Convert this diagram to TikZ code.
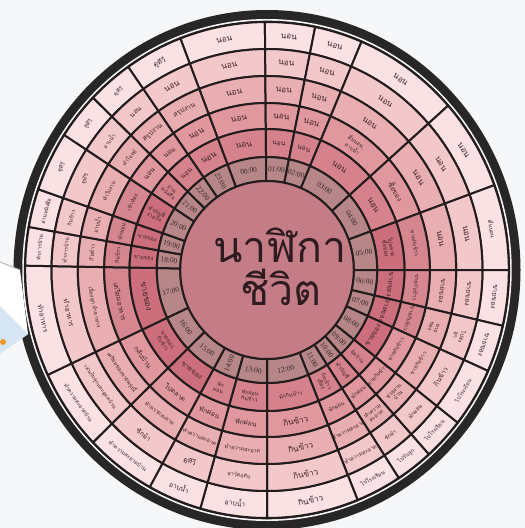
\documentclass[tikz,border=0pt]{standalone}
\usepackage{fontspec}
\setmainfont{Liberation Serif}
\newfontfamily\thai[Script=Thai]{Loma}
\definecolor{bgc}{RGB}{246,247,249}
\definecolor{bandc}{RGB}{40,38,38}
\definecolor{linec}{RGB}{34,28,28}
\definecolor{txtc}{RGB}{62,36,42}
\definecolor{hourtxt}{RGB}{56,40,40}
\definecolor{centerc}{RGB}{196,124,134}
\definecolor{hourc}{RGB}{182,134,136}
\definecolor{ringA}{RGB}{214,130,140}
\definecolor{ringAd}{RGB}{204,110,124}
\definecolor{ringB}{RGB}{224,152,158}
\definecolor{ringBd}{RGB}{214,134,142}
\definecolor{ringC}{RGB}{233,174,177}
\definecolor{ringD}{RGB}{243,200,203}
\definecolor{ringE}{RGB}{250,225,227}
\definecolor{cardblue}{RGB}{214,230,244}
\definecolor{orangec}{RGB}{240,150,40}
\tikzset{
  cellline/.style={draw=linec,line width=2pt},
  ctxt/.style={font=\thai\fontsize{8.2}{8.6}\selectfont,text=txtc,align=center,inner sep=0pt},
  sm/.style={font=\thai\fontsize{6.8}{7.2}\selectfont},
  xs/.style={font=\thai\fontsize{5.4}{6}\selectfont},
  htxt/.style={font=\fontsize{7.4}{7.4}\selectfont,text=hourtxt},
  radial/.style={rotate=\rdelta},
}
\newcommand\sect[7]{%
  \pgfmathsetmacro\ta{90-(#3)}%
  \pgfmathsetmacro\tb{90-(#4)}%
  \filldraw[cellline,fill=#5] (\ta:#1) arc[start angle=\ta,end angle=\tb,radius=#1] -- (\tb:#2) arc[start angle=\tb,end angle=\ta,radius=#2] -- cycle;
  \pgfmathsetmacro\mm{mod((#3+#4)/2+720,360)}%
  \pgfmathsetmacro\rr{(#1+#2)/2}%
  \pgfmathsetmacro\rot{ifthenelse(or(\mm<110,\mm>270),-\mm,180-\mm)}%
  \pgfmathsetmacro\rrad{ifthenelse(\mm<180,90-\mm,270-\mm)}%
  \pgfmathsetmacro\rdelta{\rrad-\rot}%
  \node[ctxt,rotate=\rot,#7] at (90-\mm:\rr) {#6};%
}
\def\colA{ringA}\def\colB{ringB}
\newcommand\hr[4][]{\sect{89}{113}{#2}{#3}{hourc}{#4}{htxt,#1}}
\newcommand\cA[4][]{\sect{113}{141}{#2}{#3}{\colA}{#4}{#1}}
\newcommand\cB[4][]{\sect{141}{167}{#2}{#3}{\colB}{#4}{#1}}
\newcommand\cC[4][]{\sect{167}{194}{#2}{#3}{ringC}{#4}{#1}}
\newcommand\cD[4][]{\sect{194}{221}{#2}{#3}{ringD}{#4}{#1}}
\newcommand\cE[4][]{\sect{221}{248}{#2}{#3}{ringE}{#4}{#1}}
\begin{document}
\begin{tikzpicture}[x=1pt,y=1pt]
\useasboundingbox (0,0) rectangle (525,-528);
\fill[bgc] (0,0) rectangle (525,-528);
\begin{scope}[shift={(267,-270)}]
\begin{scope}[xscale=0.975]
\fill[bandc] (0,0) circle[radius=260];
\fill[white!92!gray] (0,0) circle[radius=251];
\fill[bandc] (0,0) circle[radius=249.3];
% ring E
\cE{339}{359.5}{นอน}
\cE{359.5}{371.5}{นอน}
\cE{371.5}{383}{นอน}
\cE{383}{408.5}{นอน}
\cE{408.5}{430}{นอน}
\cE[xs]{430}{450}{ตื่นนอน}
\cE[sm]{450}{463}{ขายของ}
\cE[sm]{463}{474}{ขายของ}
\cE[xs]{474}{488}{ไปโรงเรียน}
\cE[xs]{488}{498}{ไปโรงเรียน}
\cE[xs]{498}{507}{ไปรับลูก}
\cE[xs]{507}{518}{ไปโรงเรียน}
\cE{518}{540}{กินข้าว}
\cE[sm]{540}{556}{อาบน้ำ}
\cE[sm]{556}{569}{อาบน้ำ}
\cE[xs]{569}{586}{ทำความสะอาดบ้าน}
\cE[xs]{586}{605}{ทำความสะอาดบ้าน}
\cE[sm]{605}{631}{ทำอาหาร}
\cE[xs]{631}{640}{ทำการบ้าน}
\cE[xs]{640}{649}{อ่านหนังสือ}
\cE[xs]{649}{663}{ดูทีวี}
\cE[xs]{663}{674}{ดูทีวี}
\cE[xs]{674}{685}{ดูทีวี}
\cE[sm]{685}{699}{ดูทีวี}
% ring D
\cD{339}{359.5}{นอน}
\cD{359.5}{371.5}{นอน}
\cD{371.5}{383}{นอน}
\cD{383}{408.5}{นอน}
\cD{408.5}{430}{นอน}
\cD{430}{450}{นอน}
\cD[sm]{450}{463}{ขายของ}
\cD[xs]{463}{474}{ไปส่ง\\ลูก}
\cD[sm]{474}{488}{กินข้าว}
\cD[xs]{488}{498}{พักผ่อน}
\cD[xs]{498}{507}{ซักผ้า}
\cD[xs]{507}{518}{ทำความสะอาด}
\cD{518}{540}{กินข้าว}
\cD[xs]{540}{556}{หาวัตถุดิบ}
\cD[sm]{556}{569}{ดูทีวี}
\cD[sm]{569}{586}{ซักผ้า}
\cD[xs]{586}{605}{เล่นกับลูกและดูแลบ้าน}
\cD[sm]{605}{631}{ทำอาหาร}
\cD[xs]{631}{640}{ทำการบ้าน}
\cD[xs]{640}{649}{กินข้าว}
\cD[xs]{649}{663}{ดูทีวี}
\cD[xs]{663}{674}{อาบน้ำ}
\cD[sm]{674}{685}{นอน}
\cD{685}{699}{นอน}
% ring C
\cC{339}{359.5}{นอน}
\cC{359.5}{371.5}{นอน}
\cC{371.5}{383}{นอน}
\cC{383}{408.5}{นอน}
\cC{408.5}{430}{นอน}
\cC{430}{450}{นอน}
\cC[sm]{450}{463}{ขายของ}
\cC[xs]{463}{474}{ขาย\\ของ}
\cC[xs]{474}{488}{ขายกับข้าว}
\cC[xs]{488}{498}{ช่วยงาน\\บ้าน}
\cC[xs]{498}{507}{ทำความ\\สะอาด}
\cC[xs]{507}{518}{ทำความสะอาด}
\cC{518}{540}{กินข้าว}
\cC[xs]{540}{556}{ทำความสะอาด}
\cC[xs]{556}{569}{ทำความสะอาด}
\cC[xs]{569}{586}{ทำความสะอาด}
\cC[xs]{586}{605}{เตรียมของขายพรุ่งนี้}
\cC[xs]{605}{631}{เลี้ยงลูก ทำอาหาร}
\cC[xs]{631}{640}{กินข้าว}
\cC[xs]{640}{649}{อาบน้ำ}
\cC[xs]{649}{663}{ทำใบงาน}
\cC[xs]{663}{674}{ทำโจทย์}
\cC[sm]{674}{685}{สรุปงาน}
\cC[sm]{685}{699}{สรุปงาน}
% ring B
\cB{339}{359.5}{นอน}
\cB{359.5}{371.5}{นอน}
\cB{371.5}{383}{นอน}
\cB[xs]{383}{408.5}{ตื่นนอน,\\อาบน้ำ}
\cB[sm]{408.5}{430}{ซื้อของ}
\def\colB{ringBd}
\cB[xs]{430}{450}{ขายกับข้าว}
\cB[xs]{450}{463}{ขายกับข้าว}
\cB[xs]{463}{474}{ขายกับข้าว}
\def\colB{ringB}
\cB[xs]{474}{488}{ขายกับข้าว}
\cB[xs]{488}{498}{ขายกับข้าว}
\cB[xs]{498}{507}{พักผ่อน}
\cB[xs]{507}{518}{พักผ่อน}
\cB{518}{540}{กินข้าว}
\cB[sm]{540}{556}{พักผ่อน}
\cB[sm]{556}{569}{พักผ่อน}
\cB[sm]{569}{586}{ไปตลาด}
\cB[sm]{586}{605}{กลับบ้าน}
\def\colB{ringBd}
\cB[sm]{605}{631}{เตรียมอาหาร}
\cB[xs]{631}{640}{กินข้าว}
\cB[xs]{640}{649}{พักผ่อน}
\cB[xs]{649}{663}{เข้าห้อง}
\def\colB{ringB}
\cB[sm]{663}{674}{นอน}
\cB[sm]{674}{685}{นอน}
\cB{685}{699}{นอน}
% ring A
\cA{339}{359.5}{นอน}
\cA[sm]{359.5}{371.5}{นอน}
\cA[sm]{371.5}{383}{นอน}
\cA{383}{408.5}{นอน}
\cA{408.5}{430}{นอน}
\def\colA{ringAd}
\cA[xs]{430}{450}{ไปตลาด\\ซื้อของ}
\cA[sm]{450}{463}{ขายของ}
\cA[sm]{463}{474}{ขายของ}
\cA[sm]{474}{488}{ขายของ}
\def\colA{ringA}
\cA[xs,radial]{488}{498}{จัดร้าน}
\cA[xs,radial]{498}{507}{ทำบัญชี}
\cA[xs,radial]{507}{518}{กินข้าว\\เที่ยง}
\cA[xs]{518}{540}{พักกินข้าว}
\cA[xs]{540}{556}{พักผ่อน\\กินข้าว}
\cA[xs]{556}{569}{พัก\\ผ่อน}
\def\colA{ringAd}
\cA[sm]{569}{586}{ขายของ}
\cA[xs]{586}{605}{ขายของ,\\กับข้าว}
\cA{605}{631}{ขายของ}
\cA[xs,radial]{631}{640}{ขายของ}
\cA[xs,radial]{640}{649}{ขายของ}
\cA[xs,radial]{649}{663}{ทำบัญชี\\รายวัน}
\def\colA{ringA}
\cA[xs,radial]{663}{674}{อ่าน\\หนังสือ}
\cA[sm]{674}{685}{นอน}
\cA{685}{699}{นอน}
% hour ring
\hr{339}{359.5}{00:00}
\hr{359.5}{371.5}{01:00}
\hr{371.5}{383}{02:00}
\hr{383}{408.5}{03:00}
\hr{408.5}{430}{04:00}
\hr[radial]{430}{450}{05:00}
\hr[radial]{450}{463}{06:00}
\hr[radial]{463}{474}{07:00}
\hr[radial]{474}{488}{08:00}
\hr[radial]{488}{498}{09:00}
\hr[radial]{498}{507}{10:00}
\hr[radial]{507}{518}{11:00}
\hr{518}{540}{12:00}
\hr{540}{556}{13:00}
\hr[radial]{556}{569}{14:00}
\hr{569}{586}{15:00}
\hr{586}{605}{16:00}
\hr[radial]{605}{631}{17:00}
\hr[radial]{631}{640}{18:00}
\hr[radial]{640}{649}{19:00}
\hr[radial]{649}{663}{20:00}
\hr[radial]{663}{674}{21:00}
\hr[radial]{674}{685}{22:00}
\hr[radial]{685}{699}{23:00}
\filldraw[cellline,fill=centerc] (0,0) circle[radius=89];
\end{scope}
\end{scope}
\node[font=\thai\fontsize{43}{43}\selectfont,text=txtc!75!black,anchor=base] (t1) at (280,-262) {นาฬิกา};
\node[font=\thai\fontsize{43}{43}\selectfont,text=txtc!75!black,anchor=base] (t2) at (281,-305) {ชีวิต};
% card at the left edge
\fill[white] (0,-262) -- (20,-270) -- (28,-334) -- (0,-354) -- cycle;
\fill[cardblue] (0,-306) -- (28,-334) -- (0,-354) -- cycle;
\draw[gray!55,line width=1pt] (0,-262) -- (20,-270);
\fill[orangec] (3,-342) circle[radius=3];
\end{tikzpicture}
\end{document}
